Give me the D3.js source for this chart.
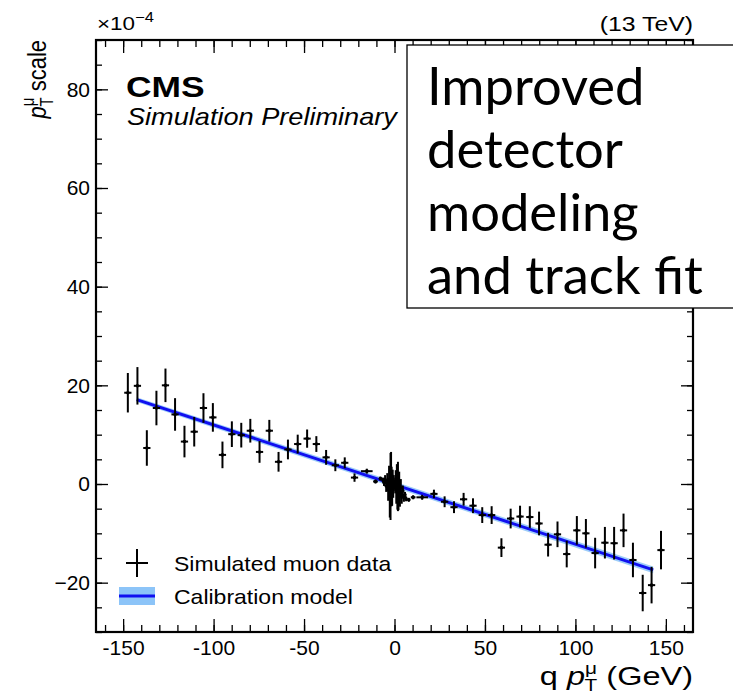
<!DOCTYPE html>
<html>
<head>
<meta charset="utf-8">
<script src="https://cdn.jsdelivr.net/npm/d3@7"></script>
<style>
  body { margin: 0; background: #fff; }
  text { fill: #000; }
</style>
</head>
<body>
<div class="canvas"></div>
<script>
// data (units of 1e-4 for y, GeV for x)
const ptVals = [
  -147.4, -142.1, -136.9, -131.6, -126.6, -121.3, -116.1, -110.7, -105.6, -100.4,
  -95.1, -89.9, -84.7, -79.7, -74.6, -69.2, -64.1, -58.9, -53.5, -48.3,
  -43.2, -37.8, -32.7, -27.5, -22.1, -15.3, -10.5, -7.8,
  -6.4, -5.8, -5.2, -4.6, -4.0, -3.5, -3.0, -2.6, -2.2, -1.9, -1.6, -1.3, -1.0, -0.7, -0.4,
  0.4, 0.7, 1.0, 1.3, 1.6, 1.9, 2.2, 2.6, 3.0, 3.5, 4.0, 4.6, 5.2, 5.8, 6.4,
  7.9, 10.3, 15.3, 21.8, 27.7, 32.9, 38.2, 43.4, 48.5, 53.7,
  59.1, 64.2, 69.4, 74.8, 79.9, 84.9, 90.1, 95.2, 100.8, 105.8,
  110.9, 116.3, 121.4, 126.6, 131.8, 137.2, 142.1, 147.3
];
const scaleVals = [
  18.5, 19.9, 7.3, 15.4, 20.0, 14.1, 8.6, 10.6, 15.4, 13.5,
  5.9, 10.1, 9.9, 10.8, 6.5, 10.8, 4.5, 7.0, 8.1, 9.2,
  8.1, 5.4, 3.8, 4.3, 1.3, 2.6, 0.5, 1.1,
  0.8, 0.3, 0.9, -0.4, 0.6, -1.2, 0.9, -1.8, -0.5, 1.0, -0.5, -1.2, 0.3, -0.8, 0.2,
  -0.3, 0.6, -1.0, 0.2, -0.6, -0.5, -1.5, -0.5, -2.2, -0.8, -2.6, -1.4, -2.8, -2.2, -3.0,
  -3.2, -2.7, -2.7, -2.0, -3.6, -4.7, -3.1, -4.4, -6.3, -6.3,
  -12.9, -7.0, -6.6, -6.7, -8.0, -12.3, -10.2, -14.2, -9.4, -10.0,
  -14.0, -11.9, -12.0, -9.4, -15.4, -22.1, -20.5, -13.4
];
const scaleErr = [
  4.0, 3.8, 3.6, 3.5, 3.4, 3.3, 3.2, 3.0, 3.0, 2.9,
  2.7, 2.6, 2.5, 2.4, 2.2, 2.2, 2.0, 2.0, 1.9, 1.85,
  1.6, 1.5, 1.2, 1.1, 0.85, 0.5, 0.4, 0.4,
  0.5, 0.7, 0.9, 1.2, 1.6, 2.2, 2.8, 5.0, 6.8, 5.5, 4.0, 3.2, 2.6, 2.0, 1.6,
  1.6, 2.2, 3.0, 3.8, 4.6, 5.0, 3.8, 3.0, 2.4, 1.8, 1.4, 1.1, 0.8, 0.6, 0.5,
  0.4, 0.4, 0.5, 0.85, 1.1, 1.2, 1.3, 1.5, 1.6, 1.8,
  1.9, 2.0, 2.2, 2.2, 2.4, 2.4, 2.6, 2.7, 2.9, 2.9,
  3.1, 3.2, 3.3, 3.4, 3.5, 3.7, 3.7, 3.9
];
const ptErr = [
  2, 2, 2, 2, 2, 2, 2, 2, 2, 2,
  2, 2, 2, 2, 2, 2, 2, 2, 2, 2,
  2, 2, 2, 2, 2, 3.2, 1.3, 0.8,
  0.3, 0.3, 0.3, 0.3, 0.3, 0.25, 0.25, 0.2, 0.2, 0.15, 0.15, 0.15, 0.15, 0.15, 0.15,
  0.15, 0.15, 0.15, 0.15, 0.15, 0.15, 0.2, 0.2, 0.25, 0.25, 0.3, 0.3, 0.3, 0.3, 0.3,
  0.8, 1.3, 3.2, 2, 2, 2, 2, 2, 2, 2,
  2, 2, 2, 2, 2, 2, 2, 2, 2, 2,
  2, 2, 2, 2, 2, 2, 2, 2
];

// calibration model (straight line) and its band half-width
const fitPt = [-142.5, 143];
const fitScale = [17.1, -17.4];
const fitBand = [0.5, 0.7];

const xMajor = [-150, -100, -50, 0, 50, 100, 150];
const yMajor = [-20, 0, 20, 40, 60, 80];
const boxLines = ['Improved', 'detector', 'modeling', 'and track fit'];

const lineColor = '#1010f0';
const bandColor = '#8cc4f8';
const sans = '"Liberation Sans", Arial, sans-serif';
// the original text looks a bit wider than plain Helvetica
const stretch = 1.18;

const svg = d3.select('.canvas')
    .append('svg')
    .attr('width', 733)
    .attr('height', 696)
    .style('font-family', sans);

const frame = { left: 96, right: 693, top: 40, bottom: 632 };

const x = d3.scaleLinear().domain([-165, 165]).range([frame.left, frame.right]);
const y = d3.scaleLinear().domain([-30, 90]).range([frame.bottom, frame.top]);

// text helper: anchored at (px,py) and stretched horizontally
const label = (px, py, size, sx) => svg.append('text')
    .attr('transform', `translate(${px},${py}) scale(${sx},1)`)
    .style('font-size', size + 'px');

// ticks on all four sides, pointing inwards
const xMinor = d3.range(-160, 161, 10);
const yMinor = d3.range(-30, 91, 5);

svg.append('g')
    .attr('transform', `translate(0,${frame.bottom})`)
    .call(d3.axisBottom(x).tickValues(xMinor).tickSize(-7).tickSizeOuter(0).tickFormat(''));
svg.append('g')
    .attr('class', 'xaxis')
    .attr('transform', `translate(0,${frame.bottom})`)
    .call(d3.axisBottom(x).tickValues(xMajor).tickSize(-13).tickSizeOuter(0).tickPadding(8).tickFormat(d => String(d)));
svg.append('g')
    .attr('transform', `translate(0,${frame.top})`)
    .call(d3.axisTop(x).tickValues(xMinor).tickSize(-7).tickSizeOuter(0).tickFormat(''));
svg.append('g')
    .attr('transform', `translate(0,${frame.top})`)
    .call(d3.axisTop(x).tickValues(xMajor).tickSize(-13).tickSizeOuter(0).tickFormat(''));

svg.append('g')
    .attr('transform', `translate(${frame.left},0)`)
    .call(d3.axisLeft(y).tickValues(yMinor).tickSize(-6).tickSizeOuter(0).tickFormat(''));
svg.append('g')
    .attr('class', 'yaxis')
    .attr('transform', `translate(${frame.left},0)`)
    .call(d3.axisLeft(y).tickValues(yMajor).tickSize(-12).tickSizeOuter(0).tickPadding(6));
svg.append('g')
    .attr('transform', `translate(${frame.right},0)`)
    .call(d3.axisRight(y).tickValues(yMinor).tickSize(-6).tickSizeOuter(0).tickFormat(''));
svg.append('g')
    .attr('transform', `translate(${frame.right},0)`)
    .call(d3.axisRight(y).tickValues(yMajor).tickSize(-12).tickSizeOuter(0).tickFormat(''));

svg.selectAll('.domain').remove();
svg.selectAll('.tick line').attr('stroke', '#000').attr('stroke-width', 1.3);
svg.selectAll('.xaxis text, .yaxis text')
    .attr('fill', '#000')
    .style('font-size', '21px')
    .style('font-family', sans);

// frame
svg.append('rect')
    .attr('x', frame.left)
    .attr('y', frame.top)
    .attr('width', frame.right - frame.left)
    .attr('height', frame.bottom - frame.top)
    .attr('fill', 'none')
    .attr('stroke', '#000')
    .attr('stroke-width', 2.2);

// calibration band + line
const fitData = fitPt.map((p, i) => ({ p: p, s: fitScale[i], b: fitBand[i] }));
svg.append('path')
    .datum(fitData)
    .attr('fill', bandColor)
    .attr('opacity', 0.85)
    .attr('d', d3.area().x(d => x(d.p)).y0(d => y(d.s - d.b)).y1(d => y(d.s + d.b)));
svg.append('path')
    .datum(fitData)
    .attr('fill', 'none')
    .attr('stroke', lineColor)
    .attr('stroke-width', 3)
    .attr('d', d3.line().x(d => x(d.p)).y(d => y(d.s)));

// data points with error bars
const pts = ptVals.map((p, i) => ({ p: p, s: scaleVals[i], es: scaleErr[i], ep: ptErr[i] }));
const marks = svg.append('g').attr('stroke', '#000').attr('stroke-width', 2);

marks.selectAll('line.v')
    .data(pts)
    .enter()
    .append('line')
    .attr('class', 'v')
    .attr('x1', d => x(d.p)).attr('x2', d => x(d.p))
    .attr('y1', d => y(d.s - d.es)).attr('y2', d => y(d.s + d.es));

marks.selectAll('line.h')
    .data(pts)
    .enter()
    .append('line')
    .attr('class', 'h')
    .attr('x1', d => x(d.p - d.ep)).attr('x2', d => x(d.p + d.ep))
    .attr('y1', d => y(d.s)).attr('y2', d => y(d.s));

marks.selectAll('circle')
    .data(pts)
    .enter()
    .append('circle')
    .attr('cx', d => x(d.p))
    .attr('cy', d => y(d.s))
    .attr('r', 1.8)
    .attr('fill', '#000')
    .attr('stroke', 'none');

// legend
svg.append('line')
    .attr('x1', 137).attr('x2', 137).attr('y1', 549).attr('y2', 577)
    .attr('stroke', '#000').attr('stroke-width', 2);
svg.append('line')
    .attr('x1', 126).attr('x2', 148).attr('y1', 563).attr('y2', 563)
    .attr('stroke', '#000').attr('stroke-width', 2);
label(174, 571, 20, 1.15).text('Simulated muon data');

svg.append('rect')
    .attr('x', 119).attr('y', 587).attr('width', 36).attr('height', 18)
    .attr('fill', bandColor);
svg.append('line')
    .attr('x1', 119).attr('x2', 155).attr('y1', 596).attr('y2', 596)
    .attr('stroke', lineColor).attr('stroke-width', 3);
label(174, 604, 20, 1.15).text('Calibration model');

// CMS labels
label(126, 97, 30, stretch).style('font-weight', 'bold').text('CMS');
label(127, 125, 23, stretch).style('font-style', 'italic').text('Simulation Preliminary');

// top labels
const expo = label(97, 30, 19, stretch);
expo.append('tspan').text('×10');
expo.append('tspan').attr('dy', -8).style('font-size', '14px').text('−4');

label(693, 31, 21, stretch)
    .attr('text-anchor', 'end')
    .text('(13 TeV)');

// axis titles
const xt = label(693, 685, 25, 1.3).attr('text-anchor', 'end');
xt.append('tspan').text('q ');
xt.append('tspan').style('font-style', 'italic').text('p');
xt.append('tspan').attr('dy', -11).style('font-size', '16px').text('μ');
xt.append('tspan').attr('dx', -9.5).attr('dy', 17).style('font-size', '16px').text('T');
xt.append('tspan').attr('dy', -6).text('\u00a0(GeV)');

const yt = svg.append('text')
    .attr('transform', 'translate(46,40) rotate(-90) scale(1,1.2)')
    .attr('text-anchor', 'end')
    .style('font-size', '22px');
yt.append('tspan').style('font-style', 'italic').text('p');
yt.append('tspan').attr('dy', -10).style('font-size', '15px').text('μ');
yt.append('tspan').attr('dx', -9).attr('dy', 16).style('font-size', '15px').text('T');
yt.append('tspan').attr('dy', -6).text('\u00a0scale');

// annotation box
svg.append('rect')
    .attr('x', 407).attr('y', 45)
    .attr('width', 340).attr('height', 263)
    .attr('fill', '#fff')
    .attr('stroke', '#000')
    .attr('stroke-width', 1.3);

svg.selectAll('text.box')
    .data(boxLines)
    .enter()
    .append('text')
    .attr('class', 'box')
    .attr('x', 427)
    .attr('y', (d, i) => 105 + i * 63)
    .style('font-family', 'Lato, sans-serif')
    .style('font-size', '52.5px')
    .text(d => d);
</script>
</body>
</html>
